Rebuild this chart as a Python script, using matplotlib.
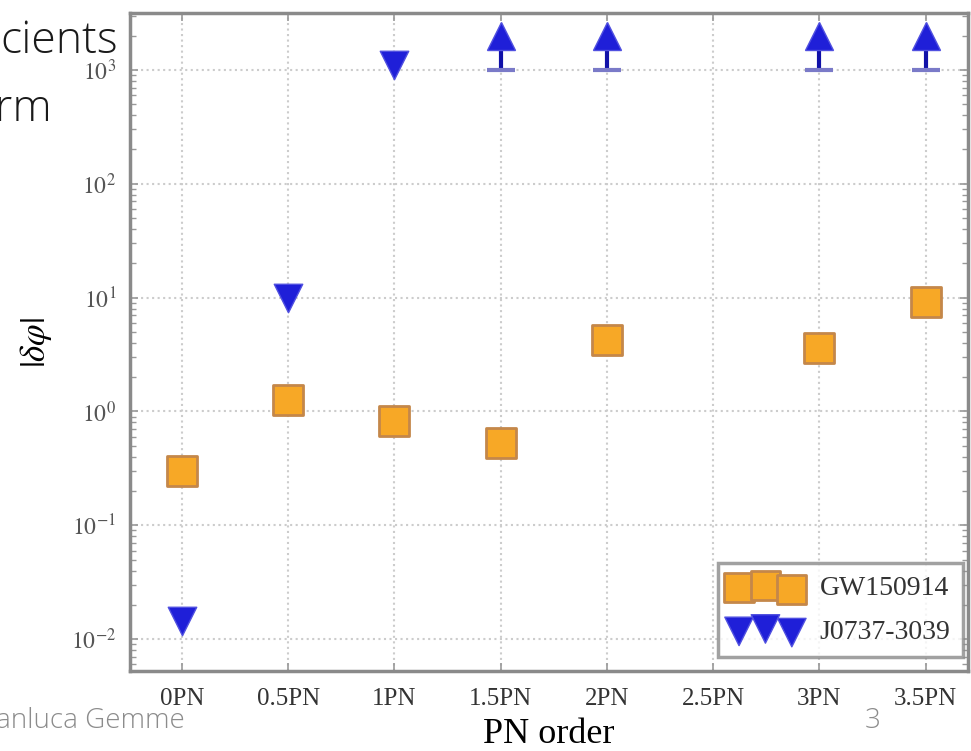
import numpy as np
import matplotlib.pyplot as plt

# PN orders and tick labels
pn_order = [0, 0.5, 1, 1.5, 2, 2.5, 3, 3.5]
pn_labels = ['0PN', '0.5PN', '1PN', '1.5PN', '2PN', '2.5PN', '3PN', '3.5PN']

# GW150914 bounds (squares)
gw_x = [0, 0.5, 1, 1.5, 2, 3, 3.5]
gw_y = [0.30, 1.25, 0.82, 0.53, 4.2, 3.6, 9.1]

# J0737-3039 bounds (down triangles)
psr_x = [0, 0.5, 1]
psr_y = [0.0144, 10.0, 1100.0]

# J0737-3039 unconstrained orders (arrows above 10^3)
lim_x = [1.5, 2, 3, 3.5]
lim_lo = [1000, 1000, 1000, 1000]
lim_hi = [2000, 2000, 2000, 2000]

plt.rcParams['mathtext.fontset'] = 'stix'
serif = 'Liberation Serif'

fig = plt.figure(figsize=(9.71, 7.51), dpi=100)
ax = fig.add_axes([130 / 971, 80 / 751, 838 / 971, 658 / 751])

orange = '#f7a826'
orange_edge = '#c4874a'
blue = '#1f1fd8'

ax.scatter(gw_x, gw_y, marker='s', s=440, c=orange, edgecolors=orange_edge,
           linewidths=2, label='GW150914', zorder=3)
ax.scatter(psr_x, psr_y, marker='v', s=420, c=blue, edgecolors='#5050e0',
           linewidths=1, label='J0737-3039', zorder=3)

# limit arrows
ax.vlines(lim_x, lim_lo, lim_hi, colors='#1010a8', linewidth=3, zorder=3)
ax.plot(lim_x, lim_hi, '^', ms=20, color=blue, mec='#5050e0', mew=1, zorder=4)
ax.plot(lim_x, lim_lo, '_', ms=20, color='#7a7ac8', mew=3, zorder=4)

ax.set_yscale('log')
ax.set_xlim(-0.245, 3.70)
ax.set_ylim(10 ** -2.28, 10 ** 3.5)
ax.set_yticks([1e-2, 1e-1, 1e0, 1e1, 1e2, 1e3])
ax.set_yticklabels([r'$10^{-2}$', r'$10^{-1}$', r'$10^{0}$', r'$10^{1}$',
                    r'$10^{2}$', r'$10^{3}$'])
ax.set_xticks(pn_order)
ax.set_xticklabels(pn_labels, family=serif)

ax.tick_params(which='both', direction='in', top=True, right=True,
               color='#999999')
ax.tick_params(which='major', length=6, width=1.2)
ax.tick_params(which='minor', length=4, width=1)
ax.tick_params(axis='x', labelsize=18, labelcolor='#333333', pad=12)
ax.tick_params(axis='y', labelsize=17, labelcolor='#555555', pad=10)

ax.grid(True, which='major', linestyle=':', color='#cccccc', linewidth=1.5)
for sp in ax.spines.values():
    sp.set_color('#8a8a8a')
    sp.set_linewidth(2.5)

ax.set_xlabel('PN order', family=serif, fontsize=26, labelpad=6)
ax.set_ylabel(r'$|\delta\varphi|$', fontsize=25, labelpad=12)

leg = ax.legend(loc='lower right', bbox_to_anchor=(0.994, 0.021),
                borderaxespad=0, prop={'family': serif, 'size': 20},
                scatterpoints=3, handlelength=2.5, handletextpad=0.7,
                fancybox=False, labelspacing=0.65, borderpad=0.45)
leg.get_frame().set_edgecolor('#8a8a8a')
leg.get_frame().set_linewidth(2.5)
for t in leg.get_texts():
    t.set_color('#333333')

# slide text around the chart
fig.text(0.0, 1 - 53 / 751, 'cients', fontsize=32, family='Open Sans',
         weight='light', color='#1a1a1a', ha='left', va='baseline')
fig.text(-0.005, 1 - 121 / 751, 'rm', fontsize=32, family='Open Sans',
         weight='light', color='#1a1a1a', ha='left', va='baseline')
fig.text(-0.004, 1 - 728 / 751, 'anluca Gemme', fontsize=20, family='Open Sans',
         weight='light', color='#8c8c8c', ha='left', va='baseline')
fig.text(873 / 971, 1 - 728 / 751, '3', fontsize=20, family='Open Sans',
         weight='light', color='#8c8c8c', ha='center', va='baseline')

fig.savefig('out.png', dpi=100)
